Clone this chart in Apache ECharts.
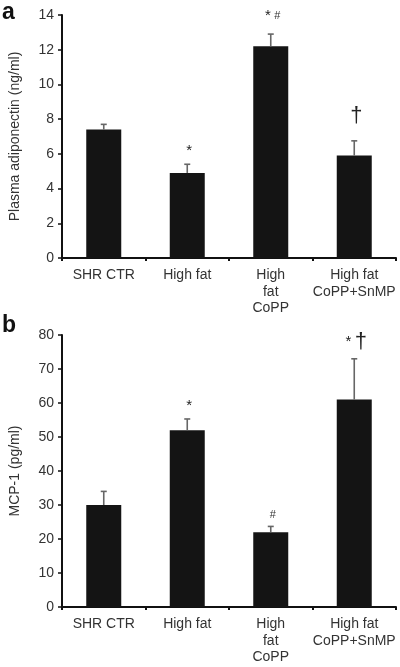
<!DOCTYPE html>
<html><head><meta charset="utf-8">
<script src="https://cdn.jsdelivr.net/npm/echarts@6/dist/echarts.min.js"></script>
<style>html,body{margin:0;padding:0;background:#fff}#c{width:400px;height:667px}</style>
</head><body><div id="c"></div>
<script>
var categories = ['SHR CTR', 'High fat', 'High\nfat\nCoPP', 'High fat\nCoPP+SnMP'];
var adiponectin = [7.4, 4.9, 12.2, 5.9];
var adiponectinSD = [0.3, 0.5, 0.7, 0.85];
var adiponectinNotes = ['', '*', '* #', '†'];
var mcp1 = [30, 52, 22, 61];
var mcp1SD = [4, 3.3, 1.7, 12];
var mcp1Notes = ['', '*', '#', '* †'];
var ticksA = {min: 0, max: 14, interval: 2};
var ticksB = {min: 0, max: 80, interval: 10};

var FONT = '"Liberation Sans", Arial, sans-serif';
var chart = echarts.init(document.getElementById('c'), null, {renderer: 'canvas'});

function errData(vals, sd, notes) {
  return vals.map(function (v, i) { return [i, v, v + sd[i]]; });
}
function noteRich(t) {
  return t.replace(/\*/g, '{s|*}').replace(/#/g, '{h|#}').replace(/†/g, '{d|†}');
}
function renderErr(params, api) {
  var i = api.value(0);
  var base = api.coord([i, api.value(1)]);
  var top = api.coord([i, api.value(2)]);
  var notes = params.seriesIndex === 1 ? adiponectinNotes : mcp1Notes;
  var t = notes[params.dataIndex];
  var children = [
    {type: 'line', shape: {x1: base[0], y1: base[1], x2: top[0], y2: top[1]}, style: {stroke: '#666', lineWidth: 1.6}},
    {type: 'line', shape: {x1: top[0] - 3, y1: top[1], x2: top[0] + 3, y2: top[1]}, style: {stroke: '#666', lineWidth: 1.6}}
  ];
  if (t) {
    var lift = params.seriesIndex === 1 && t.indexOf('*') < 0 ? 14 : (params.seriesIndex === 1 && t.length > 1 ? 11 : 6);
    children.push({type: 'text', x: top[0] + 2, y: top[1] - lift, style: {
      text: noteRich(t), align: 'center', verticalAlign: 'bottom', fill: '#222',
      rich: {s: {fontSize: 15, fontFamily: FONT, fill: '#222'}, h: {fontSize: 11, fontFamily: FONT, fill: '#333'}, d: {fontSize: 22, fontFamily: FONT, fill: '#222'}}
    }});
  }
  return {type: 'group', children: children};
}

function xAx(gi) {
  return {type: 'category', gridIndex: gi, data: categories, boundaryGap: true,
    axisLine: {lineStyle: {color: '#111', width: 2}},
    axisTick: {show: true, length: 3, lineStyle: {color: '#111', width: 2}},
    axisLabel: {color: '#333', fontSize: 14, fontFamily: FONT, lineHeight: 16.5, margin: 9, interval: 0}};
}
function yAx(gi, t, name, gap) {
  return {type: 'value', gridIndex: gi, min: t.min, max: t.max, interval: t.interval,
    name: name, nameLocation: 'middle', nameGap: gap, nameRotate: 90,
    nameTextStyle: {color: '#333', fontSize: 14, fontFamily: FONT},
    axisLine: {show: true, lineStyle: {color: '#111', width: 2}},
    axisTick: {show: true, length: 4, lineStyle: {color: '#111', width: 1.5}},
    splitLine: {show: false},
    axisLabel: {color: '#333', fontSize: 14, fontFamily: FONT, margin: 8}};
}

chart.setOption({
  animation: false,
  textStyle: {fontFamily: FONT},
  graphic: [
    {type: 'text', left: 2, top: 1, style: {text: 'a', font: 'bold 23px ' + FONT, fill: '#111'}},
    {type: 'text', left: 2, top: 314, style: {text: 'b', font: 'bold 23px ' + FONT, fill: '#111'}}
  ],
  grid: [
    {left: 61, right: 4, top: 15, height: 243},
    {left: 61, right: 4, top: 335, height: 272}
  ],
  xAxis: [xAx(0), xAx(1)],
  yAxis: [yAx(0, ticksA, 'Plasma adiponectin (ng/ml)', 40), yAx(1, ticksB, 'MCP-1 (pg/ml)', 40)],
  series: [
    {type: 'bar', xAxisIndex: 0, yAxisIndex: 0, data: adiponectin, barWidth: 35, itemStyle: {color: '#141414'}},
    {type: 'custom', xAxisIndex: 0, yAxisIndex: 0, data: errData(adiponectin, adiponectinSD), renderItem: renderErr, z: 3},
    {type: 'bar', xAxisIndex: 1, yAxisIndex: 1, data: mcp1, barWidth: 35, itemStyle: {color: '#141414'}},
    {type: 'custom', xAxisIndex: 1, yAxisIndex: 1, data: errData(mcp1, mcp1SD), renderItem: renderErr, z: 3}
  ]
});
</script></body></html>
